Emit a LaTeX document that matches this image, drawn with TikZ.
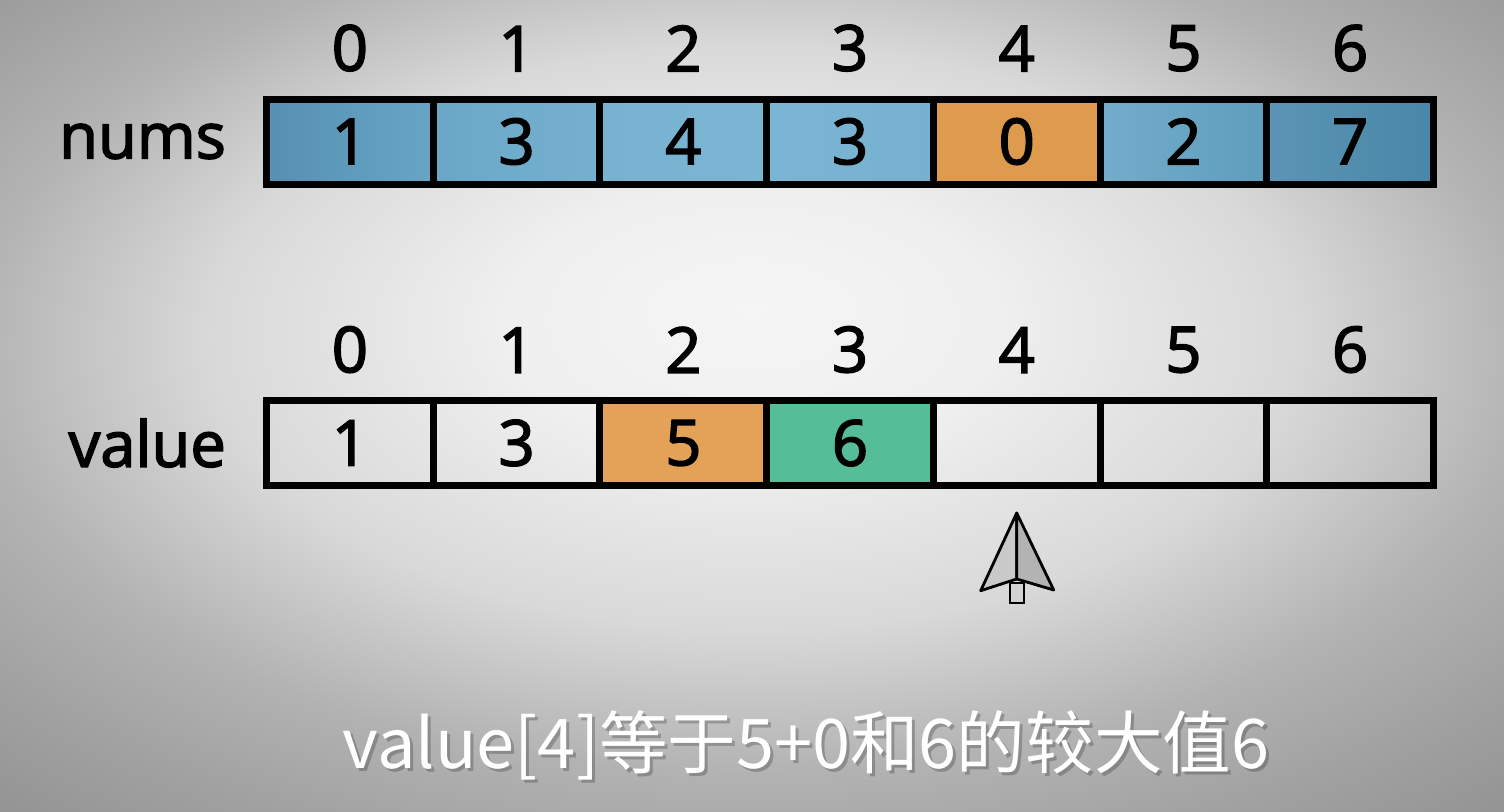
\documentclass[tikz,border=0pt]{standalone}
\usepackage{fontspec}
\setmainfont{Open Sans}
\newfontfamily\labelfont{Open Sans}[FakeBold=2.5]
\newfontfamily\cjk{Noto Sans CJK SC}
\usetikzlibrary{positioning, calc}

\definecolor{hitorange}{HTML}{DE9A4D}
\definecolor{maxorange}{HTML}{E3A257}
\definecolor{maxgreen}{HTML}{55BD97}
\definecolor{wingL}{HTML}{C9C9C9}
\definecolor{wingR}{HTML}{B3B3B3}
\definecolor{stemgray}{HTML}{D2D2D2}
\definecolor{bA}{HTML}{5590B2}
\definecolor{bB}{HTML}{68A5C5}
\definecolor{bC}{HTML}{6AA7C7}
\definecolor{bD}{HTML}{75B0CE}
\definecolor{bE}{HTML}{77B2D0}
\definecolor{bF}{HTML}{7AB5D3}
\definecolor{bG}{HTML}{76B1CF}
\definecolor{bH}{HTML}{72ADCB}
\definecolor{bI}{HTML}{609CBC}
\definecolor{bJ}{HTML}{5A95B5}
\definecolor{bK}{HTML}{4A86A7}
\pgfdeclareradialshading{bgshade}{\pgfpoint{0bp}{6bp}}{rgb(0bp)=(.96,.96,.96); rgb(8bp)=(.94,.94,.94); rgb(18bp)=(.85,.85,.85); rgb(26bp)=(.70,.70,.70); rgb(32bp)=(.63,.63,.63); rgb(40bp)=(.55,.55,.55); rgb(60bp)=(.54,.54,.54)}

\begin{document}
\begin{tikzpicture}[
    cell/.style={draw, line width=0.07cm, minimum width=1.667cm, minimum height=0.85cm, inner sep=0pt, outer sep=0pt, font=\labelfont\fontsize{18}{20}\selectfont},
    numcell/.style 2 args={cell, left color=#1, right color=#2},
    idx/.style={inner sep=0pt, font=\labelfont\fontsize{18}{20}\selectfont},
    rowname/.style={inner sep=0pt, font=\labelfont\fontsize{18}{20}\selectfont}
]
    \useasboundingbox (0,0) rectangle (15.04,-8.11);
    \shade[shading=bgshade] (0,0) rectangle (15.04,-8.11);

    % nums 数组
    \begin{scope}[shift={(0,-1.415)}]
        \node[numcell={bA}{bB}] (n0) at (3.499,0) {1};
        \node[numcell={bC}{bD}] (n1) at (5.166,0) {3};
        \node[numcell={bE}{bF}] (n2) at (6.833,0) {4};
        \node[numcell={bF}{bG}] (n3) at (8.500,0) {3};
        \node[cell, fill=hitorange] (n4) at (10.167,0) {0};
        \node[numcell={bH}{bI}] (n5) at (11.834,0) {2};
        \node[numcell={bJ}{bK}] (n6) at (13.501,0) {7};
        \node[idx, above=0.27cm of n0] {0};
        \node[idx, above=0.27cm of n1] {1};
        \node[idx, above=0.27cm of n2] {2};
        \node[idx, above=0.27cm of n3] {3};
        \node[idx, above=0.27cm of n4] {4};
        \node[idx, above=0.27cm of n5] {5};
        \node[idx, above=0.27cm of n6] {6};
        \node[rowname, left=0.40cm of n0] {nums};
    \end{scope}

    % value 数组
    \begin{scope}[shift={(0,-4.43)}]
        \node[cell] (v0) at (3.499,0) {1};
        \node[cell] (v1) at (5.166,0) {3};
        \node[cell, fill=maxorange] (v2) at (6.833,0) {5};
        \node[cell, fill=maxgreen] (v3) at (8.500,0) {6};
        \node[cell] (v4) at (10.167,0) {};
        \node[cell] (v5) at (11.834,0) {};
        \node[cell] (v6) at (13.501,0) {};
        \node[idx, above=0.27cm of v0] {0};
        \node[idx, above=0.27cm of v1] {1};
        \node[idx, above=0.27cm of v2] {2};
        \node[idx, above=0.27cm of v3] {3};
        \node[idx, above=0.27cm of v4] {4};
        \node[idx, above=0.27cm of v5] {5};
        \node[idx, above=0.27cm of v6] {6};
        \node[rowname, left=0.40cm of v0] {value};
    \end{scope}

    % 指针
    \coordinate[below=0.275cm of v4] (tip);
    \draw[line width=0.6pt, fill=stemgray] ($(tip)+(-0.07,-0.70)$) rectangle ($(tip)+(0.07,-0.90)$);
    \draw[line width=0.8pt, line join=round, fill=wingL] (tip) -- ++(-0.36,-0.777) -- ($(tip)+(0,-0.66)$) -- cycle;
    \draw[line width=0.8pt, line join=round, fill=wingR] (tip) -- ($(tip)+(0,-0.66)$) -- ++(0.37,-0.11) -- cycle;

    % 说明文字
    \node[text=black, opacity=0.22, font=\cjk\fontsize{19.5}{24}\selectfont] at (8.09,-7.48) {value[4]等于5+0和6的较大值6};
    \node[text=white, font=\cjk\fontsize{19.5}{24}\selectfont] (cap) at (8.06,-7.45) {value[4]等于5+0和6的较大值6};
\end{tikzpicture}
\end{document}
